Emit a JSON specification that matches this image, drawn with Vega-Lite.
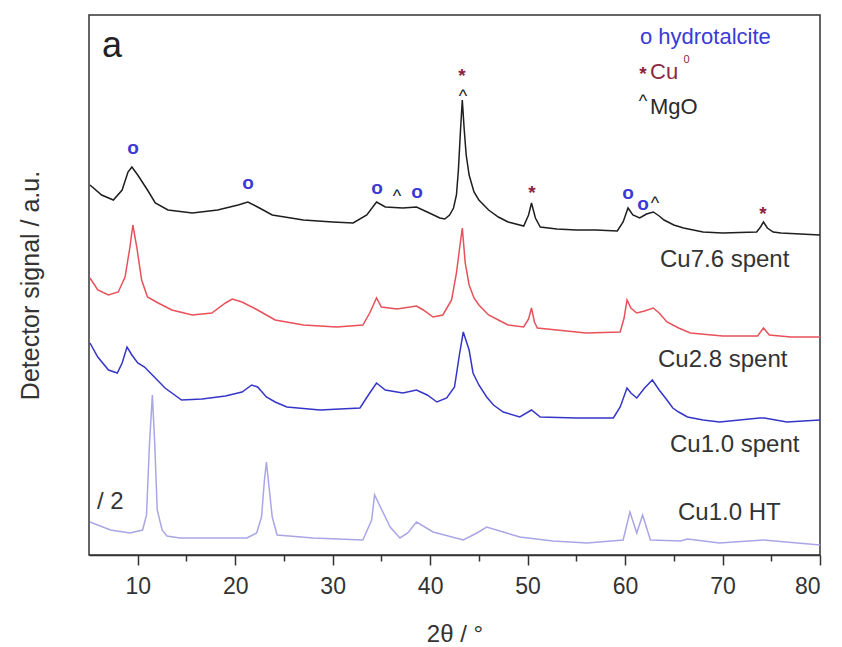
{
  "$schema": "https://vega.github.io/schema/vega-lite/v6.json",
  "width": 731,
  "height": 540,
  "autosize": "none",
  "padding": {"left": 89, "top": 15, "right": 22, "bottom": 92},
  "background": "white",
  "config": {
    "font": "Liberation Sans",
    "view": {"stroke": "#333333", "strokeWidth": 1.5}
  },
  "datasets": {
    "spectra": [
      {"s":"Cu7.6 spent","t":5.1,"y":370},{"s":"Cu7.6 spent","t":6.3,"y":360},{"s":"Cu7.6 spent","t":7.5,"y":355},{"s":"Cu7.6 spent","t":8.4,"y":365},{"s":"Cu7.6 spent","t":9.0,"y":383},{"s":"Cu7.6 spent","t":9.4,"y":388},{"s":"Cu7.6 spent","t":10.0,"y":380},{"s":"Cu7.6 spent","t":11.0,"y":365},{"s":"Cu7.6 spent","t":11.8,"y":352},{"s":"Cu7.6 spent","t":13.1,"y":345},{"s":"Cu7.6 spent","t":15.6,"y":342},{"s":"Cu7.6 spent","t":18.2,"y":345},{"s":"Cu7.6 spent","t":20.3,"y":350},{"s":"Cu7.6 spent","t":21.3,"y":353},{"s":"Cu7.6 spent","t":22.3,"y":348},{"s":"Cu7.6 spent","t":23.8,"y":340},{"s":"Cu7.6 spent","t":27,"y":335},{"s":"Cu7.6 spent","t":30,"y":333},{"s":"Cu7.6 spent","t":32.1,"y":332},{"s":"Cu7.6 spent","t":33.5,"y":340},{"s":"Cu7.6 spent","t":34.5,"y":353},{"s":"Cu7.6 spent","t":35.4,"y":348},{"s":"Cu7.6 spent","t":37.2,"y":347},{"s":"Cu7.6 spent","t":38.6,"y":348},{"s":"Cu7.6 spent","t":39.7,"y":343},{"s":"Cu7.6 spent","t":41,"y":337},{"s":"Cu7.6 spent","t":41.5,"y":336},{"s":"Cu7.6 spent","t":42,"y":340},{"s":"Cu7.6 spent","t":42.4,"y":347},{"s":"Cu7.6 spent","t":42.7,"y":360},{"s":"Cu7.6 spent","t":42.9,"y":385},{"s":"Cu7.6 spent","t":43.1,"y":422},{"s":"Cu7.6 spent","t":43.3,"y":455},{"s":"Cu7.6 spent","t":43.5,"y":425},{"s":"Cu7.6 spent","t":43.7,"y":400},{"s":"Cu7.6 spent","t":44.0,"y":380},{"s":"Cu7.6 spent","t":44.5,"y":363},{"s":"Cu7.6 spent","t":45,"y":355},{"s":"Cu7.6 spent","t":46,"y":345},{"s":"Cu7.6 spent","t":47,"y":338},{"s":"Cu7.6 spent","t":48,"y":333},{"s":"Cu7.6 spent","t":49.6,"y":329},{"s":"Cu7.6 spent","t":50.1,"y":340},{"s":"Cu7.6 spent","t":50.4,"y":352},{"s":"Cu7.6 spent","t":50.8,"y":337},{"s":"Cu7.6 spent","t":51.3,"y":328},{"s":"Cu7.6 spent","t":53,"y":326},{"s":"Cu7.6 spent","t":55,"y":325},{"s":"Cu7.6 spent","t":57,"y":325},{"s":"Cu7.6 spent","t":59.2,"y":324},{"s":"Cu7.6 spent","t":59.8,"y":333},{"s":"Cu7.6 spent","t":60.3,"y":347},{"s":"Cu7.6 spent","t":60.8,"y":340},{"s":"Cu7.6 spent","t":61.5,"y":337},{"s":"Cu7.6 spent","t":62.2,"y":341},{"s":"Cu7.6 spent","t":62.9,"y":343},{"s":"Cu7.6 spent","t":63.5,"y":339},{"s":"Cu7.6 spent","t":64,"y":335},{"s":"Cu7.6 spent","t":65,"y":330},{"s":"Cu7.6 spent","t":66,"y":327},{"s":"Cu7.6 spent","t":67,"y":325},{"s":"Cu7.6 spent","t":68,"y":323},{"s":"Cu7.6 spent","t":70,"y":322},{"s":"Cu7.6 spent","t":73.5,"y":323},{"s":"Cu7.6 spent","t":73.9,"y":328},{"s":"Cu7.6 spent","t":74.2,"y":333},{"s":"Cu7.6 spent","t":74.6,"y":327},{"s":"Cu7.6 spent","t":75.2,"y":323},{"s":"Cu7.6 spent","t":76,"y":322},{"s":"Cu7.6 spent","t":78,"y":321},{"s":"Cu7.6 spent","t":80,"y":320},

      {"s":"Cu2.8 spent","t":5.1,"y":277},{"s":"Cu2.8 spent","t":5.9,"y":265},{"s":"Cu2.8 spent","t":7,"y":260},{"s":"Cu2.8 spent","t":8,"y":263},{"s":"Cu2.8 spent","t":8.7,"y":278},{"s":"Cu2.8 spent","t":9.2,"y":308},{"s":"Cu2.8 spent","t":9.5,"y":330},{"s":"Cu2.8 spent","t":9.9,"y":308},{"s":"Cu2.8 spent","t":10.4,"y":275},{"s":"Cu2.8 spent","t":11,"y":258},{"s":"Cu2.8 spent","t":12.1,"y":252},{"s":"Cu2.8 spent","t":13.5,"y":245},{"s":"Cu2.8 spent","t":15.6,"y":240},{"s":"Cu2.8 spent","t":17.6,"y":242},{"s":"Cu2.8 spent","t":19,"y":252},{"s":"Cu2.8 spent","t":19.7,"y":256},{"s":"Cu2.8 spent","t":20.7,"y":253},{"s":"Cu2.8 spent","t":22.3,"y":245},{"s":"Cu2.8 spent","t":24.1,"y":235},{"s":"Cu2.8 spent","t":27,"y":230},{"s":"Cu2.8 spent","t":30.4,"y":228},{"s":"Cu2.8 spent","t":33.1,"y":230},{"s":"Cu2.8 spent","t":33.8,"y":242},{"s":"Cu2.8 spent","t":34.5,"y":257},{"s":"Cu2.8 spent","t":35,"y":248},{"s":"Cu2.8 spent","t":36.6,"y":246},{"s":"Cu2.8 spent","t":38.6,"y":249},{"s":"Cu2.8 spent","t":39.3,"y":245},{"s":"Cu2.8 spent","t":40.3,"y":238},{"s":"Cu2.8 spent","t":41.3,"y":240},{"s":"Cu2.8 spent","t":42.2,"y":255},{"s":"Cu2.8 spent","t":42.7,"y":282},{"s":"Cu2.8 spent","t":43.0,"y":305},{"s":"Cu2.8 spent","t":43.3,"y":327},{"s":"Cu2.8 spent","t":43.6,"y":292},{"s":"Cu2.8 spent","t":44,"y":270},{"s":"Cu2.8 spent","t":44.5,"y":257},{"s":"Cu2.8 spent","t":45,"y":250},{"s":"Cu2.8 spent","t":46,"y":240},{"s":"Cu2.8 spent","t":47,"y":235},{"s":"Cu2.8 spent","t":48,"y":230},{"s":"Cu2.8 spent","t":49.6,"y":228},{"s":"Cu2.8 spent","t":50.1,"y":236},{"s":"Cu2.8 spent","t":50.4,"y":247},{"s":"Cu2.8 spent","t":50.7,"y":233},{"s":"Cu2.8 spent","t":51,"y":227},{"s":"Cu2.8 spent","t":53,"y":225},{"s":"Cu2.8 spent","t":56,"y":222},{"s":"Cu2.8 spent","t":59.5,"y":223},{"s":"Cu2.8 spent","t":59.9,"y":237},{"s":"Cu2.8 spent","t":60.2,"y":255},{"s":"Cu2.8 spent","t":60.6,"y":247},{"s":"Cu2.8 spent","t":61.2,"y":242},{"s":"Cu2.8 spent","t":62,"y":244},{"s":"Cu2.8 spent","t":62.9,"y":247},{"s":"Cu2.8 spent","t":63.5,"y":242},{"s":"Cu2.8 spent","t":64.3,"y":233},{"s":"Cu2.8 spent","t":65.5,"y":227},{"s":"Cu2.8 spent","t":66.7,"y":222},{"s":"Cu2.8 spent","t":70,"y":219},{"s":"Cu2.8 spent","t":73.6,"y":219},{"s":"Cu2.8 spent","t":74.2,"y":227},{"s":"Cu2.8 spent","t":74.8,"y":220},{"s":"Cu2.8 spent","t":77,"y":218},{"s":"Cu2.8 spent","t":80,"y":218},

      {"s":"Cu1.0 spent","t":5.1,"y":212},{"s":"Cu1.0 spent","t":5.9,"y":198},{"s":"Cu1.0 spent","t":7,"y":185},{"s":"Cu1.0 spent","t":7.9,"y":182},{"s":"Cu1.0 spent","t":8.4,"y":192},{"s":"Cu1.0 spent","t":8.9,"y":208},{"s":"Cu1.0 spent","t":9.4,"y":200},{"s":"Cu1.0 spent","t":10,"y":192},{"s":"Cu1.0 spent","t":10.7,"y":188},{"s":"Cu1.0 spent","t":11.5,"y":180},{"s":"Cu1.0 spent","t":12.8,"y":167},{"s":"Cu1.0 spent","t":14.5,"y":155},{"s":"Cu1.0 spent","t":16.6,"y":156},{"s":"Cu1.0 spent","t":19,"y":159},{"s":"Cu1.0 spent","t":20.7,"y":163},{"s":"Cu1.0 spent","t":21.7,"y":170},{"s":"Cu1.0 spent","t":22.3,"y":168},{"s":"Cu1.0 spent","t":23.2,"y":158},{"s":"Cu1.0 spent","t":24.1,"y":153},{"s":"Cu1.0 spent","t":25.3,"y":148},{"s":"Cu1.0 spent","t":28.7,"y":145},{"s":"Cu1.0 spent","t":32.8,"y":147},{"s":"Cu1.0 spent","t":33.8,"y":162},{"s":"Cu1.0 spent","t":34.5,"y":172},{"s":"Cu1.0 spent","t":35.4,"y":165},{"s":"Cu1.0 spent","t":37.2,"y":162},{"s":"Cu1.0 spent","t":38.6,"y":165},{"s":"Cu1.0 spent","t":39.7,"y":160},{"s":"Cu1.0 spent","t":40.7,"y":153},{"s":"Cu1.0 spent","t":41.7,"y":157},{"s":"Cu1.0 spent","t":42.5,"y":168},{"s":"Cu1.0 spent","t":43.0,"y":200},{"s":"Cu1.0 spent","t":43.4,"y":223},{"s":"Cu1.0 spent","t":44,"y":205},{"s":"Cu1.0 spent","t":44.4,"y":182},{"s":"Cu1.0 spent","t":45,"y":170},{"s":"Cu1.0 spent","t":45.8,"y":158},{"s":"Cu1.0 spent","t":46.5,"y":150},{"s":"Cu1.0 spent","t":47.5,"y":143},{"s":"Cu1.0 spent","t":49.2,"y":138},{"s":"Cu1.0 spent","t":50.4,"y":145},{"s":"Cu1.0 spent","t":51.3,"y":138},{"s":"Cu1.0 spent","t":55,"y":137},{"s":"Cu1.0 spent","t":58.8,"y":137},{"s":"Cu1.0 spent","t":59.5,"y":148},{"s":"Cu1.0 spent","t":60.2,"y":167},{"s":"Cu1.0 spent","t":60.6,"y":162},{"s":"Cu1.0 spent","t":61.2,"y":157},{"s":"Cu1.0 spent","t":62,"y":167},{"s":"Cu1.0 spent","t":62.8,"y":175},{"s":"Cu1.0 spent","t":63.5,"y":165},{"s":"Cu1.0 spent","t":64.3,"y":155},{"s":"Cu1.0 spent","t":64.9,"y":147},{"s":"Cu1.0 spent","t":65.5,"y":143},{"s":"Cu1.0 spent","t":66.4,"y":138},{"s":"Cu1.0 spent","t":68,"y":135},{"s":"Cu1.0 spent","t":69.7,"y":133},{"s":"Cu1.0 spent","t":73.8,"y":137},{"s":"Cu1.0 spent","t":74.3,"y":137},{"s":"Cu1.0 spent","t":76.6,"y":133},{"s":"Cu1.0 spent","t":80,"y":135},

      {"s":"Cu1.0 HT","t":5.1,"y":33},{"s":"Cu1.0 HT","t":7.2,"y":25},{"s":"Cu1.0 HT","t":9.2,"y":22},{"s":"Cu1.0 HT","t":10.5,"y":25},{"s":"Cu1.0 HT","t":10.9,"y":40},{"s":"Cu1.0 HT","t":11.2,"y":110},{"s":"Cu1.0 HT","t":11.5,"y":160},{"s":"Cu1.0 HT","t":11.75,"y":110},{"s":"Cu1.0 HT","t":12.0,"y":45},{"s":"Cu1.0 HT","t":12.5,"y":25},{"s":"Cu1.0 HT","t":13,"y":19},{"s":"Cu1.0 HT","t":14.3,"y":17},{"s":"Cu1.0 HT","t":21.2,"y":17},{"s":"Cu1.0 HT","t":22.2,"y":22},{"s":"Cu1.0 HT","t":22.7,"y":38},{"s":"Cu1.0 HT","t":23.0,"y":75},{"s":"Cu1.0 HT","t":23.2,"y":93},{"s":"Cu1.0 HT","t":23.45,"y":70},{"s":"Cu1.0 HT","t":23.8,"y":38},{"s":"Cu1.0 HT","t":24.3,"y":20},{"s":"Cu1.0 HT","t":28,"y":17},{"s":"Cu1.0 HT","t":33.1,"y":15},{"s":"Cu1.0 HT","t":34,"y":35},{"s":"Cu1.0 HT","t":34.3,"y":60},{"s":"Cu1.0 HT","t":34.9,"y":48},{"s":"Cu1.0 HT","t":35.9,"y":28},{"s":"Cu1.0 HT","t":36.9,"y":17},{"s":"Cu1.0 HT","t":37.7,"y":22},{"s":"Cu1.0 HT","t":38.6,"y":33},{"s":"Cu1.0 HT","t":40.3,"y":23},{"s":"Cu1.0 HT","t":43.4,"y":15},{"s":"Cu1.0 HT","t":44.8,"y":22},{"s":"Cu1.0 HT","t":45.8,"y":28},{"s":"Cu1.0 HT","t":47.5,"y":23},{"s":"Cu1.0 HT","t":49.2,"y":18},{"s":"Cu1.0 HT","t":52.6,"y":14},{"s":"Cu1.0 HT","t":56.1,"y":12},{"s":"Cu1.0 HT","t":59.8,"y":15},{"s":"Cu1.0 HT","t":60.5,"y":43},{"s":"Cu1.0 HT","t":61.2,"y":22},{"s":"Cu1.0 HT","t":61.8,"y":40},{"s":"Cu1.0 HT","t":62.6,"y":15},{"s":"Cu1.0 HT","t":65.7,"y":14},{"s":"Cu1.0 HT","t":66.4,"y":16},{"s":"Cu1.0 HT","t":69.7,"y":12},{"s":"Cu1.0 HT","t":74.2,"y":15},{"s":"Cu1.0 HT","t":80,"y":10}
    ],
    "peaks": [
      {"phase":"hydrotalcite","sym":"o","t":9.51,"y":407},
      {"phase":"hydrotalcite","sym":"o","t":21.31,"y":372},
      {"phase":"hydrotalcite","sym":"o","t":34.55,"y":367},
      {"phase":"hydrotalcite","sym":"o","t":38.65,"y":363},
      {"phase":"hydrotalcite","sym":"o","t":60.3,"y":362},
      {"phase":"hydrotalcite","sym":"o","t":61.84,"y":351},
      {"phase":"Cu","sym":"*","t":43.27,"y":485},
      {"phase":"Cu","sym":"*","t":50.45,"y":368},
      {"phase":"Cu","sym":"*","t":74.15,"y":347},
      {"phase":"Cu","sym":"*","t":61.84,"y":487},
      {"phase":"MgO","sym":"^","t":36.6,"y":362},
      {"phase":"MgO","sym":"^","t":43.37,"y":462},
      {"phase":"MgO","sym":"^","t":63.07,"y":355},
      {"phase":"MgO","sym":"^","t":61.84,"y":457}
    ],
    "legend": [
      {"phase":"hydrotalcite","text":"o hydrotalcite","t":61.53,"y":518},
      {"phase":"Cu","text":"Cu","t":62.56,"y":483},
      {"phase":"MgO","text":"MgO","t":62.56,"y":448}
    ],
    "sup": [
      {"text":"0","t":66.0,"y":495}
    ],
    "labels": [
      {"text":"Cu7.6 spent","t":63.58,"y":295},
      {"text":"Cu2.8 spent","t":63.38,"y":195},
      {"text":"Cu1.0 spent","t":64.61,"y":110},
      {"text":"Cu1.0 HT","t":65.43,"y":42},
      {"text":"/ 2","t":5.82,"y":53}
    ],
    "panel": [
      {"text":"a","t":6.33,"y":509}
    ]
  },
  "layer": [
    {
      "data": {"name": "spectra"},
      "mark": {"type": "line", "strokeWidth": 1.5},
      "encoding": {
        "x": {"field": "t", "type": "quantitative",
              "scale": {"domain": [5, 80], "nice": false, "zero": false},
              "axis": {"orient": "bottom", "values": [10,20,30,40,50,60,70,80], "tickSize": 10, "tickWidth": 1.5, "tickColor": "#333333",
                       "domainColor": "#333333", "domainWidth": 1.5, "grid": false,
                       "labelFontSize": 23, "labelColor": "#333333", "labelPadding": 10,
                       "title": "2θ / °", "titleFontSize": 24, "titleFontWeight": "normal", "titleColor": "#333333", "titlePadding": 24}},
        "y": {"field": "y", "type": "quantitative",
              "scale": {"domain": [0, 540], "nice": false, "zero": false},
              "axis": {"ticks": false, "labels": false, "domain": false, "grid": false,
                       "title": "Detector signal / a.u.", "titleFontSize": 25, "titleFontWeight": "normal", "titleColor": "#333333", "titlePadding": 46}},
        "color": {"field": "s", "type": "nominal",
                  "scale": {"domain": ["Cu7.6 spent","Cu2.8 spent","Cu1.0 spent","Cu1.0 HT"],
                            "range": ["#1e1e1e","#e8505a","#3535c8","#aaa6e6"]},
                  "legend": null}
      }
    },
    {
      "data": {"name": "labels"},
      "mark": {"type": "text", "opacity": 0},
      "encoding": {
        "x": {"field": "t", "type": "quantitative",
              "axis": {"orient": "bottom", "values": [15,25,35,45,55,65,75], "tickSize": 6, "tickWidth": 1.5, "tickColor": "#333333",
                       "domain": false, "labels": false, "grid": false, "title": null}},
        "y": {"field": "y", "type": "quantitative", "axis": null},
        "text": {"field": "text"}
      }
    },
    {
      "data": {"name": "labels"},
      "mark": {"type": "text", "align": "left", "baseline": "middle", "fontSize": 24, "color": "#333333"},
      "encoding": {
        "x": {"field": "t", "type": "quantitative", "axis": null},
        "y": {"field": "y", "type": "quantitative", "axis": null},
        "text": {"field": "text"}
      }
    },
    {
      "data": {"name": "panel"},
      "mark": {"type": "text", "align": "left", "baseline": "middle", "fontSize": 36, "color": "#222222"},
      "encoding": {
        "x": {"field": "t", "type": "quantitative", "axis": null},
        "y": {"field": "y", "type": "quantitative", "axis": null},
        "text": {"field": "text"}
      }
    },
    {
      "data": {"name": "peaks"},
      "transform": [{"filter": "datum.phase === 'hydrotalcite'"}],
      "mark": {"type": "text", "align": "center", "baseline": "middle", "fontSize": 19, "fontWeight": "bold", "color": "#3a3ad6"},
      "encoding": {
        "x": {"field": "t", "type": "quantitative", "axis": null},
        "y": {"field": "y", "type": "quantitative", "axis": null},
        "text": {"field": "sym"}
      }
    },
    {
      "data": {"name": "peaks"},
      "transform": [{"filter": "datum.phase === 'Cu'"}],
      "mark": {"type": "text", "align": "center", "baseline": "middle", "fontSize": 19, "fontWeight": "bold", "color": "#8b2340", "dy": 6},
      "encoding": {
        "x": {"field": "t", "type": "quantitative", "axis": null},
        "y": {"field": "y", "type": "quantitative", "axis": null},
        "text": {"field": "sym"}
      }
    },
    {
      "data": {"name": "peaks"},
      "transform": [{"filter": "datum.phase === 'MgO'"}],
      "mark": {"type": "text", "align": "center", "baseline": "middle", "fontSize": 18, "color": "#222222", "dy": 4},
      "encoding": {
        "x": {"field": "t", "type": "quantitative", "axis": null},
        "y": {"field": "y", "type": "quantitative", "axis": null},
        "text": {"field": "sym"}
      }
    },
    {
      "data": {"name": "legend"},
      "mark": {"type": "text", "align": "left", "baseline": "middle", "fontSize": 22},
      "encoding": {
        "x": {"field": "t", "type": "quantitative", "axis": null},
        "y": {"field": "y", "type": "quantitative", "axis": null},
        "text": {"field": "text"},
        "color": {"field": "phase", "type": "nominal",
                  "scale": {"domain": ["hydrotalcite","Cu","MgO"], "range": ["#3a3ad6","#8a2a40","#2a2a2a"]},
                  "legend": null}
      }
    },
    {
      "data": {"name": "sup"},
      "mark": {"type": "text", "align": "left", "baseline": "middle", "fontSize": 11, "color": "#8a2a40"},
      "encoding": {
        "x": {"field": "t", "type": "quantitative", "axis": null},
        "y": {"field": "y", "type": "quantitative", "axis": null},
        "text": {"field": "text"}
      }
    }
  ],
  "resolve": {"axis": {"x": "independent", "y": "independent"}, "scale": {"color": "independent"}}
}
